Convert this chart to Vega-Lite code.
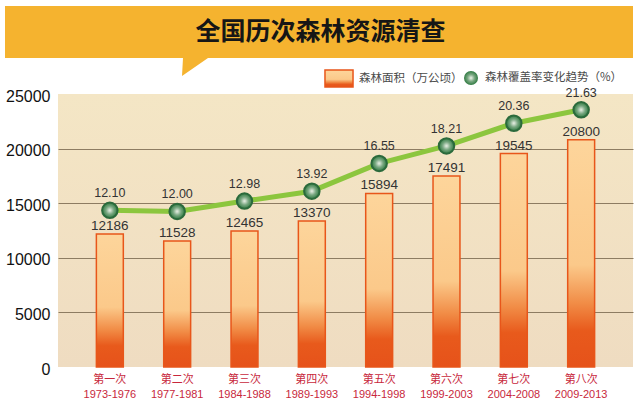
{
  "$schema": "https://vega.github.io/schema/vega-lite/v6.json",
  "background": "white",
  "padding": {"left": 5, "top": 6, "right": 2, "bottom": 2},
  "spacing": 10,
  "config": {"view": {"stroke": null}},
  "vconcat": [
    {
      "width": 575,
      "height": 52,
      "data": {"values": [{"title": "全国历次森林资源清查"}]},
      "layer": [
        {
          "mark": {"type": "point", "shape": "M -340.5 -26 L 287.5 -26 L 287.5 26 L -137.5 26 L -163.5 44 L -162.5 26 L -340.5 26 Z", "size": 4, "filled": true, "fill": "#f5b32f", "strokeWidth": 0, "opacity": 1},
          "encoding": {}
        },
        {
          "mark": {"type": "text", "font": "Noto Sans CJK SC", "fontSize": 25, "fontWeight": "bold", "color": "#161616", "align": "center", "baseline": "middle", "dx": -25},
          "encoding": {"text": {"field": "title", "type": "nominal"}}
        }
      ]
    },
    {
      "width": 575,
      "height": 273,
      "view": {
        "stroke": null,
        "fill": {"gradient": "linear", "x1": 0, "y1": 0, "x2": 0, "y2": 1, "stops": [{"offset": 0, "color": "#f4e6c5"}, {"offset": 1, "color": "#efdcc1"}]}
      },
      "data": {
        "values": [
          {"survey": "第一次\n1973-1976", "area": 12186, "coverage": 12.10},
          {"survey": "第二次\n1977-1981", "area": 11528, "coverage": 12.00},
          {"survey": "第三次\n1984-1988", "area": 12465, "coverage": 12.98},
          {"survey": "第四次\n1989-1993", "area": 13370, "coverage": 13.92},
          {"survey": "第五次\n1994-1998", "area": 15894, "coverage": 16.55},
          {"survey": "第六次\n1999-2003", "area": 17491, "coverage": 18.21},
          {"survey": "第七次\n2004-2008", "area": 19545, "coverage": 20.36},
          {"survey": "第八次\n2009-2013", "area": 20800, "coverage": 21.63}
        ]
      },
      "encoding": {
        "x": {
          "field": "survey", "type": "nominal", "sort": null,
          "scale": {"paddingInner": 0.6, "paddingOuter": 0.57},
          "axis": {
            "title": null, "domain": false, "ticks": false, "labelAngle": 0, "labelOverlap": false,
            "labelExpr": "split(datum.label, '\\n')",
            "labelFont": "Liberation Sans, Noto Sans CJK SC", "labelFontSize": 11, "labelColor": "#c8283c",
            "labelLineHeight": 15, "labelPadding": 6, "labelBaseline": "top"
          }
        }
      },
      "layer": [
        {
          "encoding": {
            "y": {
              "field": "area", "type": "quantitative",
              "scale": {"domain": [0, 25000], "nice": false},
              "axis": {
                "title": null, "domain": false, "ticks": false, "format": "d",
                "values": [0, 5000, 10000, 15000, 20000, 25000],
                "labelFont": "Liberation Sans", "labelFontSize": 16, "labelColor": "#111111", "labelPadding": 8, "labelOffset": 2,
                "grid": true, "gridWidth": 1,
                "gridColor": {"condition": {"test": "datum.value === 0 || datum.value === 25000", "value": null}, "value": "#8d7c62"}
              }
            }
          },
          "layer": [
            {
              "mark": {
                "type": "bar", "strokeWidth": 1.5,
                "fill": {"gradient": "linear", "x1": 0, "y1": 0, "x2": 0, "y2": 1, "stops": [
                  {"offset": 0, "color": "#fdd59b"},
                  {"offset": 0.55, "color": "#fbc98a"},
                  {"offset": 0.72, "color": "#f18c46"},
                  {"offset": 0.84, "color": "#e85a1c"},
                  {"offset": 1, "color": "#e6521a"}
                ]}
              },
              "encoding": {
                "stroke": {
                  "datum": "森林面积（万公顷）", "type": "nominal",
                  "scale": {"range": ["#e8561a"]},
                  "legend": {
                    "title": null, "orient": "none", "legendX": 271.5, "legendY": 63, "direction": "horizontal",
                    "padding": 0, "symbolSize": 289, "symbolStrokeWidth": 1.5, "labelOffset": 10.5,
                    "symbolType": "M -1.65 -1 L 1.65 -1 L 1.65 1 L -1.65 1 Z",
                    "labelFont": "Noto Sans CJK SC", "labelFontSize": 11.5, "labelColor": "#4a4a4a",
                    "encode": {
                      "symbols": {
                        "update": {
                          "fill": {"value": {"gradient": "linear", "x1": 0, "y1": 0, "x2": 0, "y2": 1, "stops": [{"offset": 0, "color": "#fdd59b"}, {"offset": 0.45, "color": "#fbc98a"}, {"offset": 1, "color": "#e6521a"}]}},
                          "opacity": {"value": 1}
                        }
                      }
                    }
                  }
                }
              }
            },
            {
              "mark": {"type": "text", "baseline": "alphabetic", "dy": -4, "font": "Liberation Sans", "fontSize": 13.5, "color": "#333333"},
              "encoding": {"text": {"field": "area", "type": "quantitative", "format": "d"}}
            }
          ]
        },
        {
          "encoding": {
            "y": {
              "field": "coverage", "type": "quantitative",
              "scale": {"domain": [-2.75, 23.13], "nice": false, "zero": false},
              "axis": null
            }
          },
          "layer": [
            {
              "mark": {"type": "line", "color": "#8cc63e", "strokeWidth": 5, "strokeCap": "round", "strokeJoin": "round"}
            },
            {
              "mark": {
                "type": "point", "filled": true, "opacity": 1, "size": 240, "strokeWidth": 2, "stroke": "#2b6a3c",
                "fill": {"gradient": "radial", "x1": 0.5, "y1": 0.5, "r1": 0, "x2": 0.5, "y2": 0.5, "r2": 0.5, "stops": [{"offset": 0, "color": "#eef3ea"}, {"offset": 0.5, "color": "#7aa882"}, {"offset": 1, "color": "#2f7a41"}]}
              },
              "encoding": {
                "shape": {
                  "datum": "森林覆盖率变化趋势（%）", "type": "nominal",
                  "scale": {"range": ["circle"]},
                  "legend": {
                    "title": null, "orient": "none", "legendX": 405, "legendY": 64, "direction": "horizontal",
                    "padding": 0, "symbolSize": 196, "symbolStrokeWidth": 2, "symbolStrokeColor": "#2b6a3c", "labelOffset": 6,
                    "labelFont": "Noto Sans CJK SC", "labelFontSize": 11.5, "labelColor": "#4a4a4a",
                    "encode": {
                      "symbols": {
                        "update": {
                          "fill": {"value": {"gradient": "radial", "x1": 0.5, "y1": 0.5, "r1": 0, "x2": 0.5, "y2": 0.5, "r2": 0.5, "stops": [{"offset": 0, "color": "#eef3ea"}, {"offset": 0.5, "color": "#7aa882"}, {"offset": 1, "color": "#2f7a41"}]}},
                          "stroke": {"value": "#2b6a3c"},
                          "opacity": {"value": 1}
                        }
                      }
                    }
                  }
                }
              }
            },
            {
              "mark": {"type": "text", "baseline": "alphabetic", "dy": -13, "font": "Liberation Sans", "fontSize": 12.5, "color": "#333333"},
              "encoding": {"text": {"field": "coverage", "type": "quantitative", "format": ".2f"}}
            }
          ]
        }
      ],
      "resolve": {"scale": {"y": "independent"}}
    }
  ]
}
